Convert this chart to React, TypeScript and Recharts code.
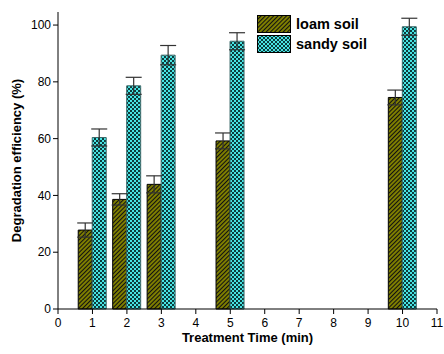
import React from 'react';
import { ComposedChart, Bar, XAxis, YAxis, ErrorBar, Label } from 'recharts';

const times = [1, 2, 3, 5, 10];
const loamValues = [27.8, 38.6, 43.9, 59.2, 74.5];
const loamErrors = [2.5, 2.0, 3.0, 2.8, 2.6];
const sandyValues = [60.4, 78.6, 89.4, 94.3, 99.4];
const sandyErrors = [3.0, 3.0, 3.4, 3.0, 3.0];

const xMajorTicks = [0, 1, 2, 3, 4, 5, 6, 7, 8, 9, 10, 11];
const xMinorTicks = [0.5, 1.5, 2.5, 3.5, 4.5, 5.5, 6.5, 7.5, 8.5, 9.5, 10.5];
const yMajorTicks = [0, 20, 40, 60, 80, 100];
const yMinorTicks = [10, 30, 50, 70, 90];

const data = times.map((t, i) => ({
  time: t,
  loam: loamValues[i],
  loamErr: loamErrors[i],
  sandy: sandyValues[i],
  sandyErr: sandyErrors[i],
}));

const FONT = '"Liberation Sans", Arial, sans-serif';
const tickStyle = { fontSize: 12, fill: '#000', fontFamily: FONT };
const labelStyle = { fontFamily: FONT, fontWeight: 'bold', fontSize: 13, fill: '#000' };

const Swatch = ({ fill }: { fill: string }) => (
  <svg width={34} height={18} style={{ display: 'block' }}>
    <rect x={0.5} y={0.5} width={33} height={17} fill={fill} stroke="#000" />
  </svg>
);

const LegendBox = () => (
  <div
    style={{
      position: 'absolute',
      left: 257,
      top: 15,
      fontFamily: FONT,
      fontWeight: 'bold',
      fontSize: 14.5,
      lineHeight: '18px',
    }}
  >
    <div style={{ display: 'flex', alignItems: 'center', gap: 5, marginBottom: 2 }}>
      <Swatch fill="url(#loamHatch)" />
      <span>loam soil</span>
    </div>
    <div style={{ display: 'flex', alignItems: 'center', gap: 5 }}>
      <Swatch fill="url(#sandyCheck)" />
      <span>sandy soil</span>
    </div>
  </div>
);

// custom x tick so the last label is never dropped
const XTick = (props: any) => {
  const { x, y, payload } = props;
  return (
    <text x={x} y={y + 11} textAnchor="middle" style={tickStyle}>
      {payload.value}
    </text>
  );
};

export default function App() {
  return (
    <div style={{ position: 'relative', width: 444, height: 354, background: '#fff' }}>
      <style>{'body { margin: 0; } .recharts-surface { overflow: visible; }'}</style>
      <ComposedChart
        width={444}
        height={354}
        data={data}
        margin={{ top: 12, right: 7, bottom: 15, left: 10 }}
        barGap={0}
      >
        <defs>
          <pattern id="loamHatch" width={3} height={3} patternUnits="userSpaceOnUse" patternTransform="rotate(45)">
            <rect width={3} height={3} fill="#808000" />
            <line x1={0.5} y1={0} x2={0.5} y2={3} stroke="#111" strokeWidth={1.1} />
          </pattern>
          <pattern id="sandyCheck" width={4} height={4} patternUnits="userSpaceOnUse">
            <rect width={4} height={4} fill="#48e4e4" />
            <rect x={0} y={0} width={2} height={2} fill="#0c3c3c" />
            <rect x={2} y={2} width={2} height={2} fill="#0c3c3c" />
          </pattern>
        </defs>

        <XAxis
          xAxisId="main"
          dataKey="time"
          type="number"
          domain={[0, 11]}
          ticks={xMajorTicks}
          interval={0}
          height={30}
          tick={<XTick />}
          tickSize={5}
          tickMargin={2}
          axisLine={{ stroke: '#000' }}
          tickLine={{ stroke: '#000' }}
        >
          <Label value="Treatment Time (min)" position="insideBottom" offset={-3} style={labelStyle} />
        </XAxis>
        <XAxis
          xAxisId="minor"
          dataKey="time"
          type="number"
          domain={[0, 11]}
          ticks={xMinorTicks}
          interval={0}
          height={0}
          tick={false}
          tickSize={3}
          axisLine={false}
          tickLine={{ stroke: '#000' }}
        />
        <XAxis
          xAxisId="top"
          orientation="top"
          dataKey="time"
          type="number"
          domain={[0, 11]}
          ticks={[...xMajorTicks, ...xMinorTicks]}
          interval={0}
          height={0}
          mirror
          tick={false}
          tickSize={3}
          axisLine={{ stroke: '#000' }}
          tickLine={{ stroke: '#999' }}
        />

        <YAxis
          yAxisId="main"
          domain={[0, 104.6]}
          ticks={yMajorTicks}
          interval={0}
          width={48}
          tick={tickStyle}
          tickSize={5}
          tickMargin={2}
          axisLine={{ stroke: '#000' }}
          tickLine={{ stroke: '#000' }}
        >
          <Label
            value="Degradation efficiency (%)"
            angle={-90}
            position="insideLeft"
            offset={6}
            style={{ ...labelStyle, textAnchor: 'middle' }}
          />
        </YAxis>
        <YAxis
          yAxisId="minor"
          domain={[0, 104.6]}
          ticks={yMinorTicks}
          interval={0}
          width={0}
          tick={false}
          tickSize={3}
          axisLine={false}
          tickLine={{ stroke: '#000' }}
          allowDataOverflow
        />
        <YAxis
          yAxisId="right"
          orientation="right"
          domain={[0, 104.6]}
          ticks={[...yMajorTicks, ...yMinorTicks]}
          interval={0}
          width={0}
          mirror
          tick={false}
          tickSize={3}
          axisLine={{ stroke: '#000' }}
          tickLine={{ stroke: '#999' }}
          allowDataOverflow
        />

        <Bar
          xAxisId="main"
          yAxisId="main"
          dataKey="loam"
          name="loam soil"
          barSize={14}
          fill="url(#loamHatch)"
          stroke="#000"
          strokeWidth={1}
          isAnimationActive={false}
        >
          <ErrorBar dataKey="loamErr" width={8} stroke="#333" strokeWidth={1.2} direction="y" />
        </Bar>
        <Bar
          xAxisId="main"
          yAxisId="main"
          dataKey="sandy"
          name="sandy soil"
          barSize={14}
          fill="url(#sandyCheck)"
          stroke="#3d6b6b"
          strokeWidth={1}
          isAnimationActive={false}
        >
          <ErrorBar dataKey="sandyErr" width={8} stroke="#333" strokeWidth={1.2} direction="y" />
        </Bar>
      </ComposedChart>
      <LegendBox />
    </div>
  );
}
